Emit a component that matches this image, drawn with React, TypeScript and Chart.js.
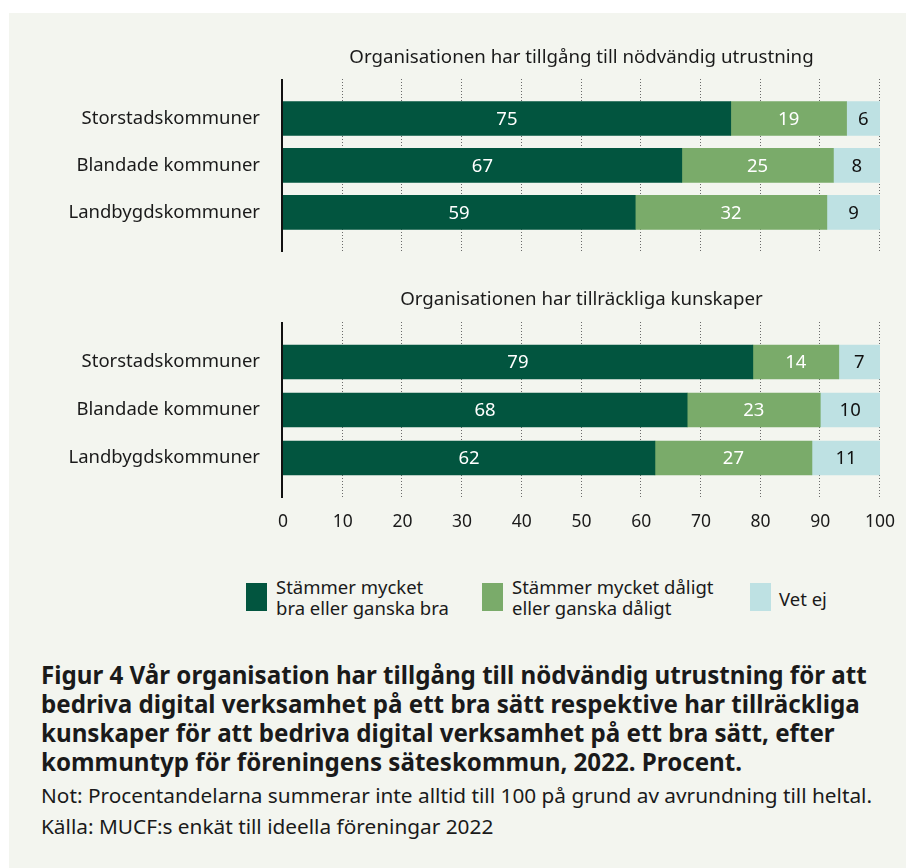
import React, { useEffect, useRef } from "react";
import { Chart, registerables } from "chart.js";

Chart.register(...registerables);

// ---------- DATA ----------
const categories = ["Storstadskommuner", "Blandade kommuner", "Landbygdskommuner"];
const seriesNames = [
  ["Stämmer mycket", "bra eller ganska bra"],
  ["Stämmer mycket dåligt", "eller ganska dåligt"],
  ["Vet ej"],
];
const xTickValues = [0, 10, 20, 30, 40, 50, 60, 70, 80, 90, 100];

const panel1Title = "Organisationen har tillgång till nödvändig utrustning";
// bar lengths
const panel1Good = [75.0, 66.8, 59.0];
const panel1Bad = [19.4, 25.4, 32.1];
const panel1DontKnow = [5.6, 7.8, 8.9];
// printed labels
const panel1GoodLabels = ["75", "67", "59"];
const panel1BadLabels = ["19", "25", "32"];
const panel1DontKnowLabels = ["6", "8", "9"];

const panel2Title = "Organisationen har tillräckliga kunskaper";
const panel2Good = [78.7, 67.7, 62.3];
const panel2Bad = [14.4, 22.3, 26.3];
const panel2DontKnow = [6.9, 10.0, 11.4];
const panel2GoodLabels = ["79", "68", "62"];
const panel2BadLabels = ["14", "23", "27"];
const panel2DontKnowLabels = ["7", "10", "11"];

const captionTitle = [
  "Figur 4 Vår organisation har tillgång till nödvändig utrustning för att",
  "bedriva digital verksamhet på ett bra sätt respektive har tillräckliga",
  "kunskaper för att bedriva digital verksamhet på ett bra sätt, efter",
  "kommuntyp för föreningens säteskommun, 2022. Procent.",
];
const captionNote = "Not: Procentandelarna summerar inte alltid till 100 på grund av avrundning till heltal.";
const captionSource = "Källa: MUCF:s enkät till ideella föreningar 2022";

// ---------- STYLE ----------
const COLORS = ["#02553f", "#7aab6a", "#bee1e3"];
const LABEL_COLORS = ["#ffffff", "#ffffff", "#111111"];
const TEXT = "#1a1a1a";
const FONT = '"Noto Sans", sans-serif';
const PANEL_BG = "#f3f5ef";

const gridPlugin = {
  id: "panelGrid",
  beforeDatasetsDraw(chart: any) {
    const { ctx, chartArea } = chart;
    const xs = chart.scales.x;
    const top = chartArea.top - 16;
    const bottom = chartArea.bottom + 16;
    ctx.save();
    ctx.strokeStyle = "#6a6a6a";
    ctx.lineWidth = 1;
    ctx.setLineDash([1, 2]);
    xTickValues.forEach((v) => {
      if (v === 0) return;
      const x = Math.round(xs.getPixelForValue(v)) - 0.5;
      ctx.beginPath();
      ctx.moveTo(x, top);
      ctx.lineTo(x, bottom);
      ctx.stroke();
    });
    ctx.restore();
  },
  afterDatasetsDraw(chart: any) {
    const { ctx, chartArea } = chart;
    const xs = chart.scales.x;
    ctx.save();
    ctx.strokeStyle = "#111111";
    ctx.lineWidth = 2;
    const x = xs.getPixelForValue(0) - 1;
    ctx.beginPath();
    ctx.moveTo(x, chartArea.top - 16);
    ctx.lineTo(x, chartArea.bottom + 16);
    ctx.stroke();
    ctx.restore();
  },
};

const valueLabelPlugin = {
  id: "valueLabels",
  afterDatasetsDraw(chart: any) {
    const { ctx } = chart;
    ctx.save();
    ctx.font = `18.5px ${FONT}`;
    ctx.textAlign = "center";
    ctx.textBaseline = "middle";
    chart.data.datasets.forEach((ds: any, di: number) => {
      const meta = chart.getDatasetMeta(di);
      meta.data.forEach((bar: any, i: number) => {
        const cx = (bar.x + bar.base) / 2;
        ctx.fillStyle = LABEL_COLORS[di];
        ctx.fillText(ds.valueLabels[i], cx, bar.y + 1);
      });
    });
    ctx.restore();
  },
};

const panelTitlePlugin = {
  id: "panelTitle",
  afterDraw(chart: any, _args: any, opts: any) {
    const { ctx, chartArea } = chart;
    ctx.save();
    ctx.font = `18.7px ${FONT}`;
    ctx.fillStyle = TEXT;
    ctx.textAlign = "center";
    ctx.textBaseline = "middle";
    ctx.fillText(opts.text, (chartArea.left + chartArea.right) / 2, chartArea.top - opts.offset);
    ctx.restore();
  },
};

function buildConfig(
  title: string,
  good: number[],
  bad: number[],
  dk: number[],
  labels: string[][],
  showTicks: boolean,
  padTop: number,
  padBottom: number,
  titleOffset: number
): any {
  const values = [good, bad, dk];
  return {
    type: "bar",
    data: {
      labels: categories,
      datasets: values.map((arr, i) => ({
        label: seriesNames[i].join(" "),
        data: arr,
        valueLabels: labels[i],
        backgroundColor: COLORS[i],
        borderWidth: 0,
        barThickness: 34,
      })),
    },
    options: {
      indexAxis: "y",
      responsive: false,
      animation: false,
      layout: { padding: { top: padTop, bottom: padBottom, left: 0, right: 26 } },
      plugins: {
        legend: { display: false },
        tooltip: { enabled: false },
        title: { display: false },
        panelTitle: { text: title, offset: titleOffset },
      },
      scales: {
        x: {
          stacked: true,
          min: 0,
          max: 100,
          display: showTicks,
          grid: { display: false, drawTicks: false },
          border: { display: false },
          ticks: {
            stepSize: 10,
            padding: 30,
            color: TEXT,
            font: { family: FONT, size: 17.5 },
            maxRotation: 0,
          },
          afterFit(scale: any) {
            scale.paddingLeft = 0;
            scale.paddingRight = 0;
          },
        },
        y: {
          stacked: true,
          grid: { display: false, drawTicks: false },
          border: { display: false },
          ticks: {
            padding: 23,
            color: TEXT,
            font: { family: FONT, size: 18.5 },
          },
          afterFit(scale: any) {
            scale.width = 283;
          },
        },
      },
    },
    plugins: [gridPlugin, valueLabelPlugin, panelTitlePlugin],
  };
}

function ChartCanvas({ config, width, height, top }: any) {
  const ref = useRef<HTMLCanvasElement>(null);
  useEffect(() => {
    if (!ref.current) return;
    const chart = new Chart(ref.current, config);
    return () => chart.destroy();
  }, []);
  return (
    <canvas
      ref={ref}
      width={width}
      height={height}
      style={{ position: "absolute", left: 0, top, width, height }}
    />
  );
}

export default function App() {
  const cfg1 = buildConfig(
    panel1Title,
    panel1Good,
    panel1Bad,
    panel1DontKnow,
    [panel1GoodLabels, panel1BadLabels, panel1DontKnowLabels],
    false,
    95,
    31,
    37
  );
  const cfg2 = buildConfig(
    panel2Title,
    panel2Good,
    panel2Bad,
    panel2DontKnow,
    [panel2GoodLabels, panel2BadLabels, panel2DontKnowLabels],
    true,
    68,
    7,
    38
  );
  const legendLeft = [246, 482, 750];
  const legendTextLeft = [276, 512, 779];
  return (
    <div
      style={{
        position: "absolute",
        left: 0,
        top: 0,
        width: 906,
        height: 868,
        background: "#ffffff",
        fontFamily: FONT,
        color: TEXT,
        overflow: "hidden",
      }}
    >
      <div
        style={{
          position: "absolute",
          left: 9,
          top: 13,
          right: 0,
          bottom: 0,
          background: PANEL_BG,
        }}
      />
      <ChartCanvas config={cfg1} width={906} height={270} top={0} />
      <ChartCanvas config={cfg2} width={906} height={300} top={270} />
      {seriesNames.map((name, i) => (
        <React.Fragment key={i}>
          <div
            style={{
              position: "absolute",
              left: legendLeft[i],
              top: 583,
              width: 21,
              height: 28,
              background: COLORS[i],
            }}
          />
          <div
            style={{
              position: "absolute",
              left: legendTextLeft[i],
              top: name.length === 1 ? 588 : 576,
              fontSize: 18.5,
              lineHeight: "21px",
              whiteSpace: "nowrap",
            }}
          >
            {name.map((l, j) => (
              <div key={j}>{l}</div>
            ))}
          </div>
        </React.Fragment>
      ))}
      <div
        style={{
          position: "absolute",
          left: 41,
          top: 660,
          fontSize: 24.15,
          lineHeight: "29px",
          fontWeight: 700,
          whiteSpace: "nowrap",
        }}
      >
        {captionTitle.map((l, j) => (
          <div key={j}>{l}</div>
        ))}
      </div>
      <div
        style={{
          position: "absolute",
          left: 41,
          top: 780,
          fontSize: 20.8,
          lineHeight: "31px",
          whiteSpace: "nowrap",
        }}
      >
        <div>{captionNote}</div>
        <div>{captionSource}</div>
      </div>
    </div>
  );
}
